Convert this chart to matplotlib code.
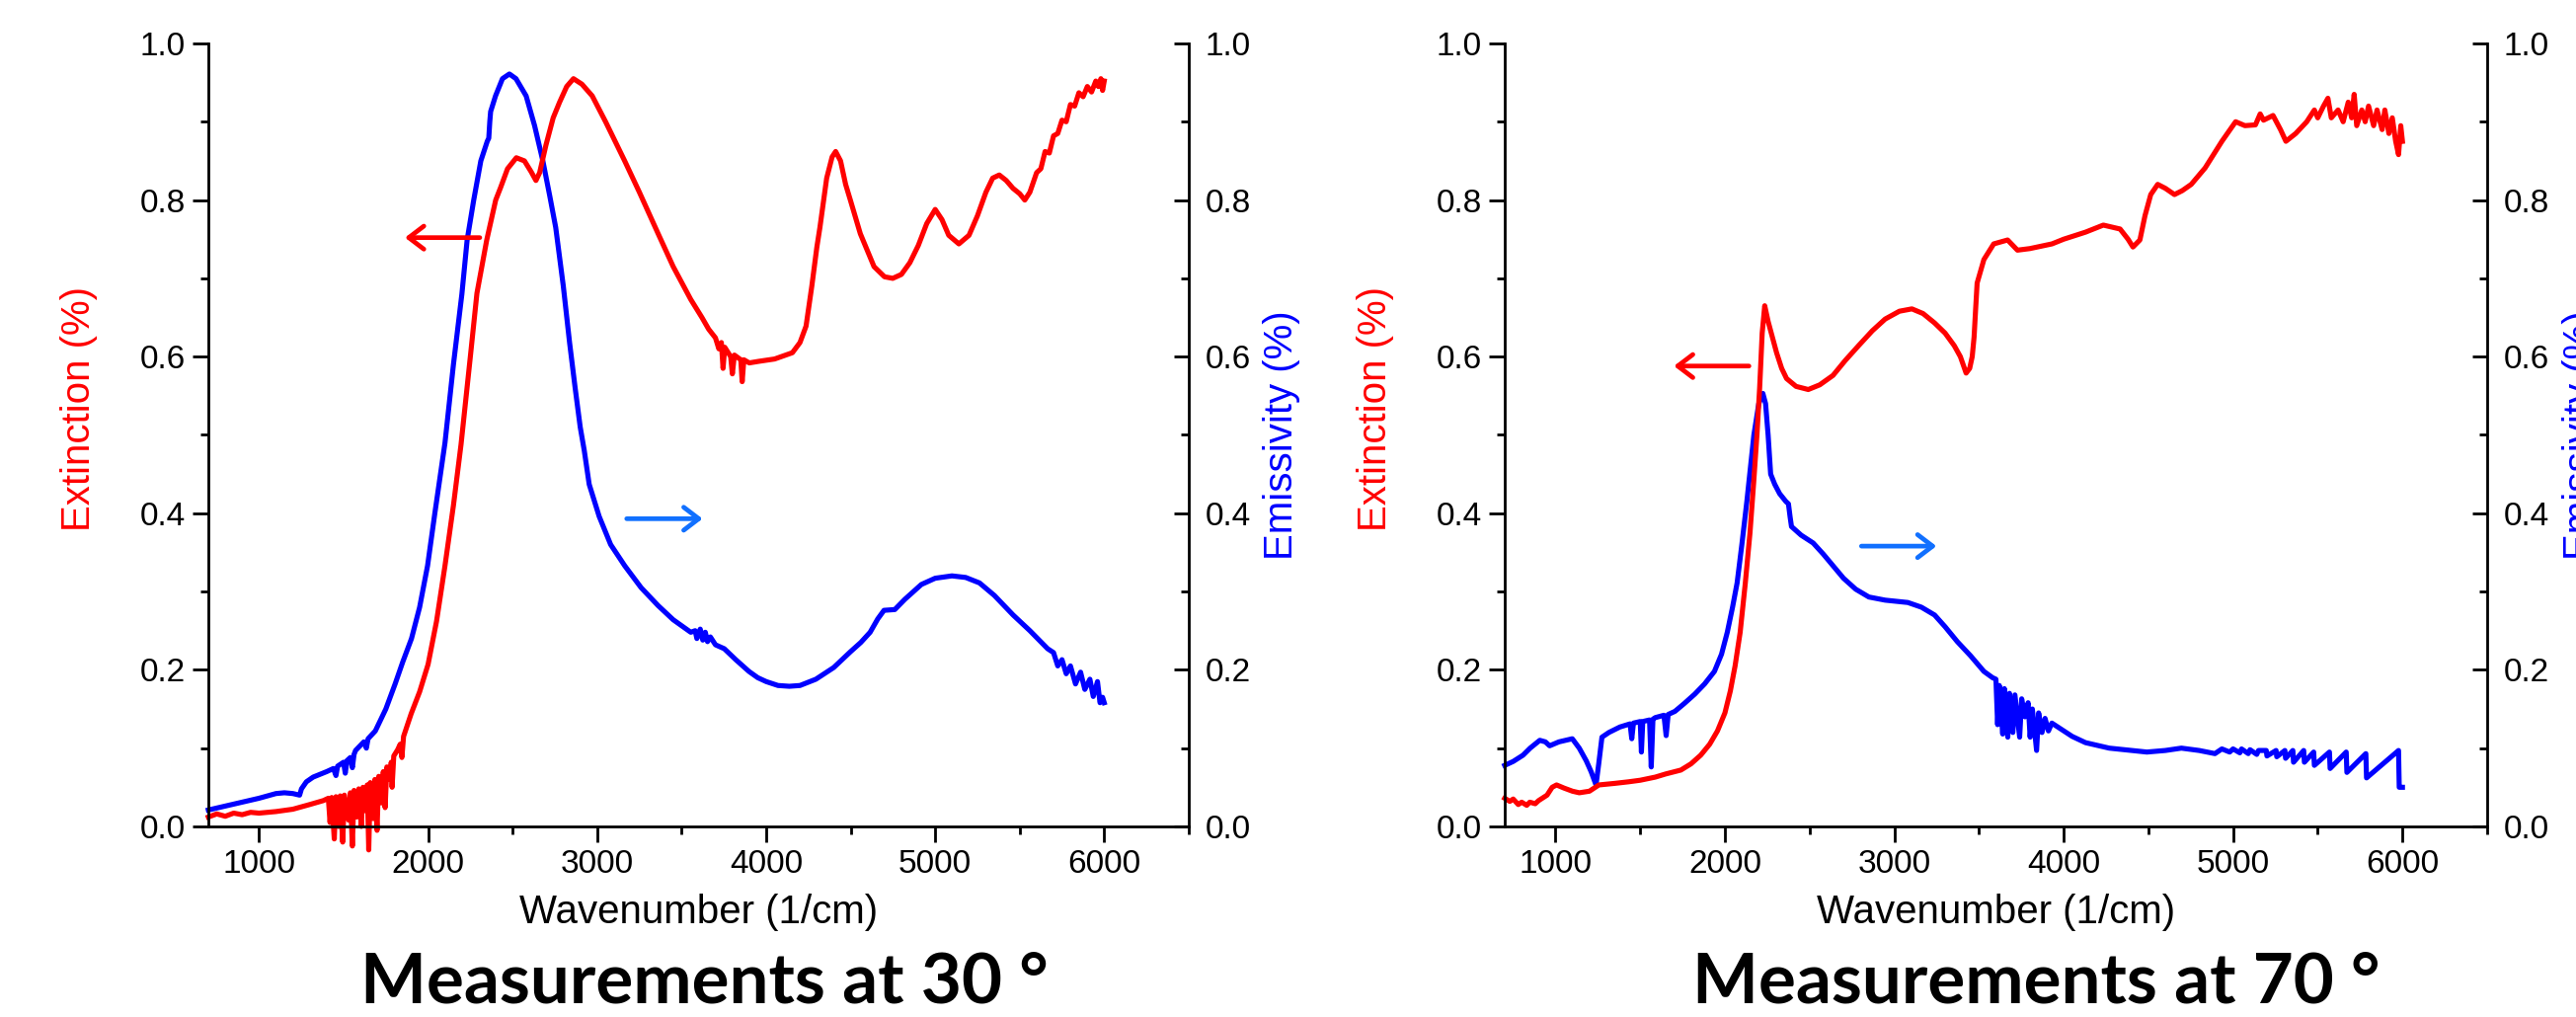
import matplotlib
matplotlib.use('Agg')
import matplotlib.pyplot as plt
from matplotlib.ticker import MultipleLocator, FormatStrFormatter

# values: (wavenumber 1/cm, value)
ext30 = [
    (700, 0.012), (750, 0.016), (800, 0.013), (850, 0.017), (900, 0.015), (950, 0.018),
    (1000, 0.017), (1100, 0.019), (1200, 0.022), (1300, 0.028), (1380, 0.033),
    (1410, 0.036), (1420, 0.005), (1430, 0.037), (1445, -0.016), (1455, 0.038), (1470, 0.0),
    (1480, 0.039), (1495, -0.02), (1505, 0.040), (1530, 0.008), (1540, 0.043), (1552, -0.025),
    (1562, 0.046), (1578, 0.012), (1590, 0.048), (1605, 0.0), (1615, 0.050), (1630, 0.02),
    (1640, 0.053), (1649, -0.03), (1658, 0.056), (1675, 0.01), (1685, 0.06), (1698, -0.005),
    (1708, 0.064), (1725, 0.03), (1735, 0.07), (1746, 0.024), (1756, 0.076), (1775, 0.06),
    (1782, 0.082), (1787, 0.05), (1797, 0.09), (1820, 0.098), (1835, 0.105), (1845, 0.088),
    (1855, 0.115), (1900, 0.144), (1950, 0.172), (2000, 0.207), (2050, 0.262), (2100, 0.333),
    (2150, 0.41), (2195, 0.488), (2250, 0.60), (2289, 0.681), (2347, 0.749), (2400, 0.80),
    (2429, 0.816), (2470, 0.84), (2522, 0.854), (2570, 0.85), (2610, 0.836), (2638, 0.825),
    (2660, 0.835), (2697, 0.87), (2740, 0.905), (2778, 0.925), (2820, 0.945), (2860, 0.955),
    (2910, 0.948), (2971, 0.933), (3050, 0.90), (3163, 0.85), (3250, 0.81), (3361, 0.757),
    (3450, 0.715), (3554, 0.673), (3620, 0.65), (3660, 0.635), (3700, 0.624), (3720, 0.61),
    (3735, 0.618), (3745, 0.585), (3755, 0.612), (3790, 0.600), (3800, 0.578), (3812, 0.602),
    (3850, 0.596), (3858, 0.568), (3868, 0.596), (3900, 0.592), (3956, 0.594), (4050, 0.597),
    (4155, 0.605), (4200, 0.618), (4236, 0.639), (4270, 0.69), (4300, 0.74), (4318, 0.765),
    (4358, 0.828), (4390, 0.855), (4411, 0.862), (4440, 0.85), (4470, 0.82), (4498, 0.80),
    (4557, 0.757), (4638, 0.715), (4700, 0.702), (4749, 0.70), (4800, 0.705), (4850, 0.72),
    (4900, 0.742), (4950, 0.77), (5000, 0.788), (5040, 0.775), (5080, 0.755), (5140, 0.744),
    (5200, 0.755), (5250, 0.78), (5300, 0.81), (5340, 0.828), (5379, 0.832), (5420, 0.825),
    (5460, 0.815), (5500, 0.808), (5530, 0.80), (5560, 0.81), (5600, 0.835), (5625, 0.84),
    (5650, 0.862), (5675, 0.86), (5700, 0.882), (5725, 0.885), (5750, 0.902), (5775, 0.9),
    (5800, 0.922), (5825, 0.92), (5850, 0.937), (5875, 0.932), (5900, 0.945), (5925, 0.938),
    (5950, 0.952), (5965, 0.945), (5980, 0.955), (5990, 0.94), (6000, 0.952),
]

emis30 = [
    (700, 0.021), (800, 0.026), (900, 0.031), (1000, 0.036), (1100, 0.042), (1150, 0.043),
    (1200, 0.042), (1240, 0.040), (1251, 0.048), (1280, 0.057), (1320, 0.063), (1400, 0.070),
    (1440, 0.074), (1455, 0.065), (1465, 0.077), (1500, 0.082), (1510, 0.068), (1520, 0.084),
    (1540, 0.088), (1552, 0.075), (1562, 0.092), (1571, 0.097), (1620, 0.108), (1635, 0.1),
    (1645, 0.112), (1688, 0.122), (1750, 0.15), (1805, 0.182), (1850, 0.21), (1902, 0.24),
    (1950, 0.28), (1997, 0.333), (2040, 0.40), (2100, 0.49), (2150, 0.59), (2200, 0.68),
    (2231, 0.749), (2270, 0.80), (2312, 0.85), (2350, 0.875), (2359, 0.879), (2365, 0.90),
    (2370, 0.913), (2399, 0.933), (2440, 0.955), (2481, 0.961), (2520, 0.955), (2580, 0.933),
    (2630, 0.895), (2679, 0.85), (2720, 0.805), (2755, 0.765), (2800, 0.69), (2837, 0.618),
    (2870, 0.56), (2900, 0.51), (2924, 0.48), (2953, 0.437), (3012, 0.396), (3080, 0.36),
    (3163, 0.333), (3260, 0.305), (3361, 0.282), (3450, 0.264), (3554, 0.248), (3580, 0.25),
    (3590, 0.24), (3610, 0.252), (3625, 0.238), (3640, 0.248), (3653, 0.236), (3670, 0.242),
    (3700, 0.232), (3752, 0.227), (3820, 0.213), (3898, 0.198), (3950, 0.19), (4000, 0.185),
    (4070, 0.18), (4137, 0.179), (4200, 0.18), (4294, 0.188), (4400, 0.203), (4498, 0.223),
    (4560, 0.235), (4615, 0.248), (4660, 0.265), (4697, 0.276), (4761, 0.277), (4820, 0.29),
    (4918, 0.309), (5000, 0.317), (5099, 0.32), (5180, 0.318), (5262, 0.311), (5350, 0.295),
    (5461, 0.27), (5560, 0.25), (5665, 0.227), (5700, 0.222), (5725, 0.205), (5750, 0.213),
    (5775, 0.195), (5800, 0.205), (5830, 0.182), (5860, 0.197), (5885, 0.175), (5915, 0.188),
    (5935, 0.166), (5960, 0.185), (5975, 0.158), (5990, 0.165), (6000, 0.158),
]

ext70 = [
    (700, 0.036), (730, 0.032), (750, 0.035), (780, 0.028), (800, 0.031), (830, 0.027),
    (848, 0.031), (880, 0.029), (900, 0.033), (950, 0.04), (980, 0.05), (1006, 0.053),
    (1050, 0.049), (1100, 0.045), (1140, 0.043), (1200, 0.045), (1256, 0.053), (1350, 0.055),
    (1431, 0.057), (1500, 0.059), (1589, 0.063), (1650, 0.067), (1740, 0.072), (1800, 0.08),
    (1857, 0.091), (1910, 0.105), (1956, 0.122), (2000, 0.145), (2032, 0.173), (2060, 0.205),
    (2090, 0.248), (2120, 0.31), (2148, 0.375), (2170, 0.44), (2189, 0.5), (2205, 0.56),
    (2220, 0.63), (2235, 0.665), (2255, 0.645), (2280, 0.625), (2305, 0.605), (2335, 0.585),
    (2364, 0.572), (2420, 0.562), (2492, 0.558), (2560, 0.564), (2638, 0.576), (2710, 0.595),
    (2789, 0.614), (2870, 0.633), (2946, 0.648), (3030, 0.658), (3104, 0.661), (3170, 0.655),
    (3238, 0.643), (3300, 0.63), (3354, 0.614), (3390, 0.6), (3424, 0.579), (3445, 0.585),
    (3460, 0.6), (3471, 0.625), (3480, 0.66), (3489, 0.694), (3529, 0.724), (3587, 0.744),
    (3669, 0.749), (3727, 0.736), (3800, 0.738), (3931, 0.744), (4000, 0.75), (4129, 0.759),
    (4234, 0.768), (4333, 0.763), (4380, 0.75), (4409, 0.74), (4450, 0.749), (4480, 0.78),
    (4514, 0.807), (4555, 0.82), (4600, 0.815), (4654, 0.807), (4700, 0.812), (4753, 0.82),
    (4835, 0.841), (4934, 0.875), (5015, 0.90), (5070, 0.895), (5132, 0.896), (5160, 0.91),
    (5180, 0.902), (5236, 0.908), (5280, 0.89), (5312, 0.875), (5370, 0.885), (5435, 0.90),
    (5480, 0.915), (5500, 0.905), (5534, 0.92), (5560, 0.93), (5580, 0.905), (5620, 0.915),
    (5650, 0.90), (5680, 0.925), (5700, 0.905), (5715, 0.935), (5730, 0.895), (5760, 0.915),
    (5780, 0.9), (5800, 0.92), (5830, 0.895), (5850, 0.915), (5880, 0.89), (5896, 0.915),
    (5920, 0.885), (5940, 0.905), (5960, 0.875), (5977, 0.858), (5990, 0.895), (6000, 0.875),
]

emis70 = [
    (700, 0.078), (750, 0.083), (808, 0.091), (850, 0.1), (907, 0.11), (940, 0.108),
    (965, 0.103), (1020, 0.108), (1099, 0.112), (1140, 0.1), (1181, 0.084), (1210, 0.07),
    (1239, 0.053), (1255, 0.08), (1274, 0.114), (1315, 0.12), (1380, 0.127), (1440, 0.131),
    (1450, 0.112), (1460, 0.132), (1500, 0.134), (1507, 0.095), (1515, 0.134), (1555, 0.136),
    (1565, 0.076), (1575, 0.137), (1589, 0.139), (1640, 0.142), (1653, 0.116), (1665, 0.143),
    (1705, 0.147), (1760, 0.157), (1822, 0.169), (1880, 0.182), (1938, 0.198), (1980, 0.22),
    (2014, 0.248), (2045, 0.28), (2072, 0.311), (2100, 0.36), (2130, 0.416), (2171, 0.5),
    (2200, 0.54), (2224, 0.553), (2240, 0.54), (2255, 0.5), (2270, 0.45), (2294, 0.437),
    (2323, 0.425), (2360, 0.415), (2375, 0.412), (2385, 0.395), (2393, 0.383), (2450, 0.372),
    (2521, 0.362), (2580, 0.348), (2638, 0.333), (2700, 0.317), (2772, 0.303), (2850, 0.293),
    (2946, 0.289), (3080, 0.286), (3160, 0.28), (3238, 0.27), (3300, 0.255), (3372, 0.236),
    (3450, 0.218), (3529, 0.198), (3580, 0.19), (3600, 0.188), (3610, 0.13), (3620, 0.18),
    (3640, 0.118), (3650, 0.176), (3670, 0.114), (3680, 0.17), (3700, 0.12), (3712, 0.168),
    (3740, 0.114), (3752, 0.163), (3772, 0.14), (3790, 0.158), (3802, 0.114), (3815, 0.15),
    (3840, 0.097), (3852, 0.145), (3872, 0.12), (3890, 0.138), (3910, 0.122), (3930, 0.132),
    (3972, 0.126), (4050, 0.115), (4129, 0.107), (4269, 0.1), (4491, 0.095), (4600, 0.097),
    (4695, 0.1), (4800, 0.097), (4893, 0.093), (4934, 0.099), (4980, 0.095), (5000, 0.099),
    (5040, 0.094), (5050, 0.099), (5090, 0.093), (5100, 0.098), (5140, 0.092), (5150, 0.097),
    (5196, 0.097), (5200, 0.09), (5254, 0.097), (5258, 0.089), (5306, 0.097), (5310, 0.087),
    (5353, 0.097), (5357, 0.082), (5417, 0.097), (5421, 0.082), (5476, 0.095), (5480, 0.078),
    (5569, 0.095), (5573, 0.074), (5668, 0.095), (5672, 0.069), (5784, 0.093), (5788, 0.062),
    (5977, 0.097), (5981, 0.05), (6000, 0.05),
]

titles = ['Measurements at 30 °', 'Measurements at 70 °']

RED = '#ff0000'
BLUE = '#0000ff'
ARROW_BLUE = '#1170ff'

plt.rcParams['font.family'] = ['Liberation Sans', 'DejaVu Sans']


def draw_panel(fig, rect, ext, emis, title, title_x, red_arrow, blue_arrow):
    ax = fig.add_axes(rect)
    tw = ax.twinx()

    tw.plot([p[0] for p in emis], [p[1] for p in emis], color=BLUE, lw=3.7, clip_on=False)
    ax.plot([p[0] for p in ext], [p[1] for p in ext], color=RED, lw=3.7, clip_on=False)
    ax.set_zorder(tw.get_zorder() + 1)
    ax.patch.set_visible(False)

    for a in (ax, tw):
        a.set_xlim(700, 6500)
        a.set_ylim(0, 1)
        a.spines['top'].set_visible(False)
        for s in a.spines.values():
            s.set_linewidth(2)
    tw.spines['left'].set_visible(False)
    tw.spines['bottom'].set_visible(False)
    ax.spines['right'].set_visible(False)

    ax.xaxis.set_major_locator(MultipleLocator(1000))
    ax.xaxis.set_minor_locator(MultipleLocator(500))
    for a in (ax, tw):
        a.yaxis.set_major_locator(MultipleLocator(0.2))
        a.yaxis.set_minor_locator(MultipleLocator(0.1))
        a.yaxis.set_major_formatter(FormatStrFormatter('%.1f'))

    ax.tick_params(which='major', direction='out', length=11.5, width=2, labelsize=24, pad=5)
    ax.tick_params(which='minor', direction='out', length=6, width=2)
    ax.tick_params(axis='x', which='both', top=False)
    tw.tick_params(which='major', direction='in', length=11, width=2, labelsize=24, pad=12)
    tw.tick_params(which='minor', direction='in', length=5.5, width=2)

    ax.set_xlabel('Wavenumber (1/cm)', fontsize=29, labelpad=10)
    ax.set_ylabel('Extinction (%)', fontsize=29, color=RED)
    ax.yaxis.set_label_coords(-0.113, 0.533)
    tw.set_ylabel('Emissivity (%)', fontsize=29, color=BLUE)
    tw.yaxis.set_label_coords(1.076, 0.5)

    ax.annotate('', xy=(red_arrow[1], red_arrow[2]), xytext=(red_arrow[0], red_arrow[2]),
                arrowprops=dict(arrowstyle='->,head_length=0.55,head_width=0.42', color=RED,
                                lw=3.4, mutation_scale=20, shrinkA=0, shrinkB=0))
    ax.annotate('', xy=(blue_arrow[1], blue_arrow[2]), xytext=(blue_arrow[0], blue_arrow[2]),
                arrowprops=dict(arrowstyle='->,head_length=0.55,head_width=0.42', color=ARROW_BLUE,
                                lw=3.4, mutation_scale=20, shrinkA=0, shrinkB=0))

    fig.text(title_x, 0.014, title, fontsize=51, fontweight='bold', family=['Lato', 'DejaVu Sans'],
             ha='center', va='baseline')
    return ax, tw


fig = plt.figure(figsize=(26.09, 10.30), dpi=100)

draw_panel(fig, [211 / 2609, 1 - 837 / 1030, 993 / 2609, 793 / 1030], ext30, emis30,
           titles[0], 713 / 2609, (2306, 1863, 0.752), (3175, 3624, 0.393))
draw_panel(fig, [1524 / 2609, 1 - 837 / 1030, 995 / 2609, 793 / 1030], ext70, emis70,
           titles[1], 2062 / 2609, (2142, 1699, 0.588), (2806, 3249, 0.358))

fig.savefig('out.png', dpi=100)
plt.close(fig)
